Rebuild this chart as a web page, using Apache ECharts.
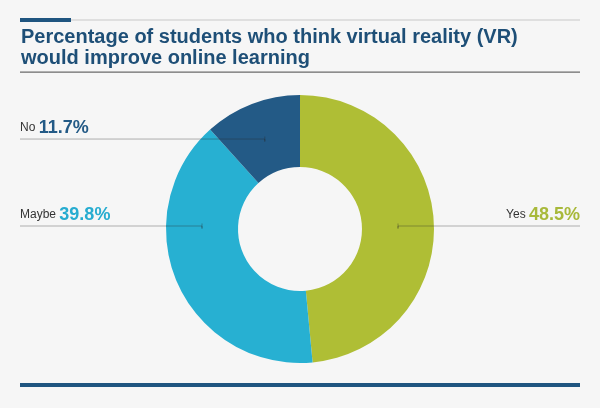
<!DOCTYPE html>
<html>
<head>
<meta charset="utf-8">
<script src="https://cdn.jsdelivr.net/npm/echarts@6/dist/echarts.min.js"></script>
<style>
html,body{margin:0;padding:0;background:#f6f6f6;}
#c{width:600px;height:408px;}
</style>
</head>
<body>
<div id="c"></div>
<script>
const categories = ['Yes', 'Maybe', 'No'];
const values = [48.5, 39.8, 11.7];
const colors = ['#afbe35', '#27b0d2', '#235a86'];
const valueColors = ['#a8b93a', '#27acd0', '#235a86'];
const titleText = 'Percentage of students who think virtual reality (VR)\nwould improve online learning';

const CX = 300, CY = 229, R0 = 62, R1 = 134;
const total = values.reduce((a, b) => a + b, 0);

// anchor point on the middle of the ring for each slice
const anchors = (function () {
  const res = [];
  let acc = 0;
  const rm = (R0 + R1) / 2;
  values.forEach(function (v) {
    const a0 = acc / total * 360, a1 = (acc + v) / total * 360;
    acc += v;
    let ang, horiz = false;
    if (a0 <= 90 && a1 >= 90) { ang = 90; horiz = true; }
    else if (a0 <= 270 && a1 >= 270) { ang = 270; horiz = true; }
    else ang = (a0 + a1) / 2;
    const rad = ang * Math.PI / 180;
    res.push({ x: CX + rm * Math.sin(rad), y: CY - rm * Math.cos(rad) - (horiz ? 3 : -1.5) });
  });
  return res;
})();

const rich = { n: { fontSize: 12, color: '#333', fontFamily: 'Liberation Sans', padding: [0, 0, 1, 0] } };
valueColors.forEach(function (c, i) {
  rich['v' + i] = { fontSize: 18, color: c, fontWeight: 'bold', fontFamily: 'Liberation Sans' };
});

const pieData = categories.map(function (name, i) {
  return { name: name, value: values[i], itemStyle: { color: colors[i] } };
});
const overlayData = categories.map(function (name, i) {
  return { name: name, value: values[i], itemStyle: { color: 'rgba(0,0,0,0)' } };
});

const chart = echarts.init(document.getElementById('c'), null, { renderer: 'canvas' });
chart.setOption({
  backgroundColor: '#f6f6f6',
  animation: false,
  title: {
    text: titleText,
    left: 21,
    top: 26.5,
    padding: 0,
    textStyle: { fontFamily: 'Liberation Sans', fontWeight: 'bold', fontSize: 20, color: '#1e4f77', lineHeight: 21.5 }
  },
  graphic: [
    { type: 'rect', shape: { x: 20, y: 19.5, width: 560, height: 1 }, style: { fill: '#c8c8c8' }, silent: true },
    { type: 'rect', shape: { x: 20, y: 18, width: 51, height: 4 }, style: { fill: '#1f5580' }, silent: true },
    { type: 'rect', shape: { x: 20, y: 71.5, width: 560, height: 1.3 }, style: { fill: '#6a6a6a' }, silent: true },
    { type: 'rect', shape: { x: 20, y: 383, width: 560, height: 4 }, style: { fill: '#1f5580' }, silent: true }
  ],
  series: [{
    type: 'pie',
    z: 2,
    center: [CX, CY],
    radius: [R0, R1],
    startAngle: 90,
    clockwise: true,
    silent: true,
    emphasis: { disabled: true },
    itemStyle: { borderWidth: 0 },
    label: { show: false },
    labelLine: { show: false },
    data: pieData
  }, {
    type: 'pie',
    z: 5,
    center: [CX, CY],
    radius: [R0, R1],
    startAngle: 90,
    clockwise: true,
    silent: true,
    avoidLabelOverlap: false,
    emphasis: { disabled: true },
    itemStyle: { borderWidth: 0 },
    data: overlayData,
    label: {
      show: true,
      position: 'outside',
      formatter: function (p) { return '{n|' + p.name + '} {v' + p.dataIndex + '|' + p.value + '%}'; },
      rich: rich
    },
    labelLine: {
      show: true,
      showAbove: true,
      smooth: false,
      lineStyle: { color: 'rgba(40,40,40,0.35)', width: 1 }
    },
    labelLayout: function (params) {
      const a = anchors[params.dataIndex];
      const left = a.x < CX;
      const ex = left ? 20 : 580;
      return {
        x: ex,
        y: a.y - 2,
        align: left ? 'left' : 'right',
        verticalAlign: 'bottom',
        labelLinePoints: [[a.x, a.y - 2.5], [a.x, a.y + 2.5], [a.x, a.y], [ex, a.y]]
      };
    }
  }]
});
</script>
</body>
</html>
